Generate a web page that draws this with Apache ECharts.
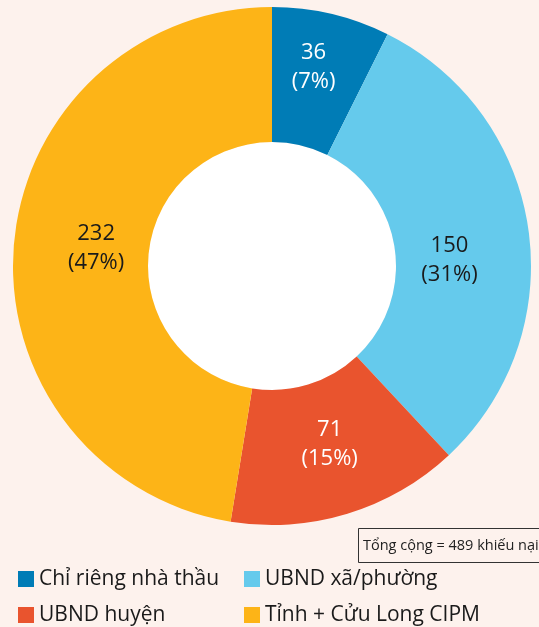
<!DOCTYPE html>
<html>
<head>
<meta charset="utf-8">
<script src="https://cdn.jsdelivr.net/npm/echarts@6/dist/echarts.min.js"></script>
<style>
  html, body { margin: 0; padding: 0; background: #fdf2ed; }
  #chart { width: 539px; height: 627px; }
</style>
</head>
<body>
<div id="chart"></div>
<script>
// nhóm giải quyết khiếu nại
const categories = ["Chỉ riêng nhà thầu", "UBND xã/phường", "UBND huyện", "Tỉnh + Cửu Long CIPM"];
const counts = [36, 150, 71, 232];
const colors = ["#007cb6", "#65caec", "#e9542e", "#fdb417"];
const labelColors = ["#ffffff", "#1a1a1a", "#ffffff", "#1a1a1a"];
const totalText = "Tổng cộng = 489 khiếu nại";

// chỉnh vị trí nhãn cho giống bản gốc
const labelShift = [[-3, -9], [-15, 22], [1, -8], [18, -2]];

const font = "'Open Sans', 'Noto Sans', sans-serif";

let chart = echarts.init(document.getElementById("chart"));

const pieData = categories.map((name, i) => ({
  name: name,
  value: counts[i],
  itemStyle: { color: colors[i] },
  label: { color: labelColors[i] }
}));

const legendText = {
  fontFamily: font,
  fontSize: 21,
  lineHeight: 24,
  color: "#1a1a1a"
};

const options = {
  backgroundColor: "#fdf2ed",
  animation: false,
  title: {
    text: totalText,
    left: 358,
    top: 528,
    padding: [10, 10, 10, 5],
    borderColor: "#333333",
    borderWidth: 1,
    backgroundColor: "#fdf2ed",
    textStyle: {
      fontFamily: font,
      fontSize: 14.5,
      fontWeight: "normal",
      color: "#222222"
    }
  },
  legend: [
    {
      data: [categories[0], categories[2]],
      orient: "vertical",
      left: 18,
      top: 567,
      icon: "rect",
      itemWidth: 16,
      itemHeight: 16,
      itemGap: 12,
      padding: 0,
      textStyle: legendText
    },
    {
      data: [categories[1], categories[3]],
      orient: "vertical",
      left: 244,
      top: 567,
      icon: "rect",
      itemWidth: 16,
      itemHeight: 16,
      itemGap: 12,
      padding: 0,
      textStyle: legendText
    }
  ],
  series: [
    {
      type: "pie",
      name: "hole",
      center: [272, 266],
      radius: [0, 124],
      silent: true,
      label: { show: false },
      labelLine: { show: false },
      data: [{ value: 1, name: "", itemStyle: { color: "#ffffff" } }]
    },
    {
      type: "pie",
      name: "khiếu nại",
      center: [272, 266],
      radius: [124, 259],
      startAngle: 90,
      clockwise: true,
      percentPrecision: 0,
      avoidLabelOverlap: false,
      itemStyle: { borderWidth: 0 },
      label: {
        show: true,
        position: "inside",
        formatter: "{c}\n({d}%)",
        fontFamily: font,
        fontSize: 22,
        lineHeight: 29
      },
      labelLine: { show: false },
      labelLayout: params => ({
        dx: labelShift[params.dataIndex][0],
        dy: labelShift[params.dataIndex][1]
      }),
      emphasis: { disabled: true },
      data: pieData
    }
  ]
};

chart.setOption(options);
</script>
</body>
</html>
